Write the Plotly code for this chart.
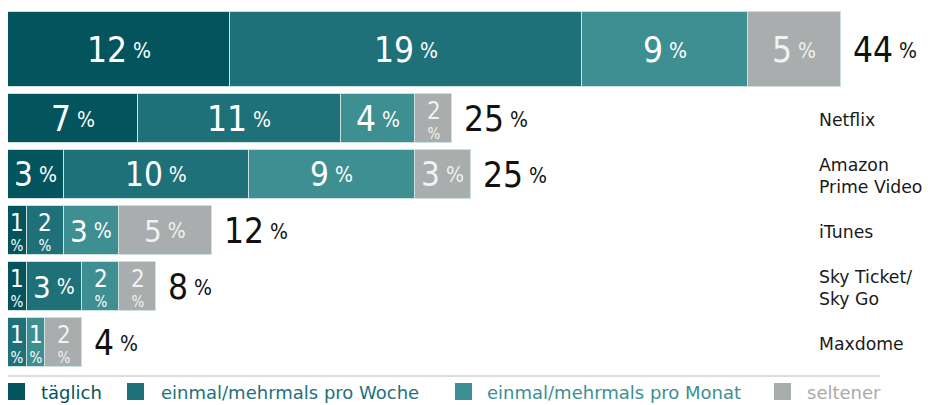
import plotly.graph_objects as go

# ---------------- data ----------------
row_labels = ["", "Netflix", "Amazon<br>Prime Video", "iTunes", "Sky Ticket/<br>Sky Go", "Maxdome"]
series_names = ["täglich", "einmal/mehrmals pro Woche", "einmal/mehrmals pro Monat", "seltener"]
taeglich = [12, 7, 3, 1, 1, 0]
woche = [19, 11, 10, 2, 3, 1]
monat = [9, 4, 9, 3, 2, 1]
seltener = [5, 2, 3, 5, 2, 2]
gesamt = [44, 25, 25, 12, 8, 4]

# ---------------- style / layout ----------------
colors = ["#03545d", "#1e7179", "#3d8f92", "#a9adad"]
legend_text_colors = ["#03545d", "#1e7179", "#3d8f92", "#aaaaaa"]
# the page body has an 8px margin, so the figure starts at (8, 8) in the window
OFF = 8
W, H = 933 - OFF, 405 - OFF
row_center = [49.5, 118.5, 174.5, 230.5, 286.5, 342.5]   # window pixel rows
row_height = [75, 49, 49, 49, 49, 49]
num_size = [35, 35, 33, 31, 31, 31]
FONT = "DejaVu Sans Condensed, DejaVu Sans, Verdana, sans-serif"
LFONT = "DejaVu Sans, Verdana, sans-serif"
PCT = "<span style='font-size:21px;baseline-shift:4px'> %</span>"


def px(x):
    """window x pixel -> paper x"""
    return (x - OFF) / W


series = [taeglich, woche, monat, seltener]

fig = go.Figure()
for name, vals, col in zip(series_names, series, colors):
    fig.add_trace(go.Bar(
        orientation="h", name=name, x=vals, y=row_center, width=row_height,
        marker=dict(color=col, line=dict(color="#cfe0e1", width=1)),
        showlegend=False, hoverinfo="x+name",
    ))

annotations = []
for r in range(len(row_center)):
    cum = 0
    for s, vals in enumerate(series):
        v = vals[r]
        if v > 0:
            txtcol = "#ffffff" if s < 3 else "#f2f2f2"
            if v <= 2:
                text = f"<span style='font-size:24px'>{v}</span><br><span style='font-size:15px'>%</span>"
                annotations.append(dict(x=cum + v / 2, y=row_center[r] + 1, xref="x", yref="y",
                                        text=text, showarrow=False, align="center",
                                        font=dict(family=FONT, size=15.5, color=txtcol),
                                        xanchor="center", yanchor="middle"))
            else:
                annotations.append(dict(x=cum + v / 2, y=row_center[r], xref="x", yref="y",
                                        text=f"{v}{PCT}", showarrow=False,
                                        font=dict(family=FONT, size=num_size[r], color=txtcol),
                                        xanchor="center", yanchor="middle"))
        cum += v
    # total label
    annotations.append(dict(x=cum, y=row_center[r], xref="x", yref="y",
                            text=f"{gesamt[r]}{PCT}",
                            showarrow=False, xanchor="left", yanchor="middle", xshift=10,
                            font=dict(family=FONT, size=35, color="#111111")))
    # category label
    if row_labels[r]:
        annotations.append(dict(x=px(817), y=row_center[r] + 1, xref="paper", yref="y",
                                text=row_labels[r], showarrow=False, xanchor="left",
                                yanchor="middle", align="left",
                                font=dict(family=LFONT, size=17.3, color="#1a1a1a")))

# manual legend
legend_sq_x = [8, 127, 455, 774]
legend_txt_x = [39, 159, 485, 805]
shapes = [dict(type="line", xref="paper", yref="y", x0=px(8), x1=px(880), y0=376, y1=376,
               line=dict(color="#dddddd", width=2))]
for i, name in enumerate(series_names):
    shapes.append(dict(type="rect", xref="paper", yref="y",
                       x0=px(legend_sq_x[i]), x1=px(legend_sq_x[i] + 17), y0=383, y1=400,
                       fillcolor=colors[i], line=dict(width=0)))
    annotations.append(dict(x=px(legend_txt_x[i]), y=392.5, xref="paper", yref="y",
                            text=name, showarrow=False, xanchor="left", yanchor="middle",
                            font=dict(family=LFONT, size=18, color=legend_text_colors[i])))

px_per_unit = 18.5
fig.update_layout(
    width=W, height=H, barmode="stack", bargap=0,
    margin=dict(l=0, r=0, t=0, b=0),
    paper_bgcolor="white", plot_bgcolor="white",
    xaxis=dict(range=[0, W / px_per_unit], visible=False, fixedrange=True),
    yaxis=dict(range=[405, OFF], visible=False, fixedrange=True),
    annotations=annotations, shapes=shapes,
)

fig.write_html("out.html")
